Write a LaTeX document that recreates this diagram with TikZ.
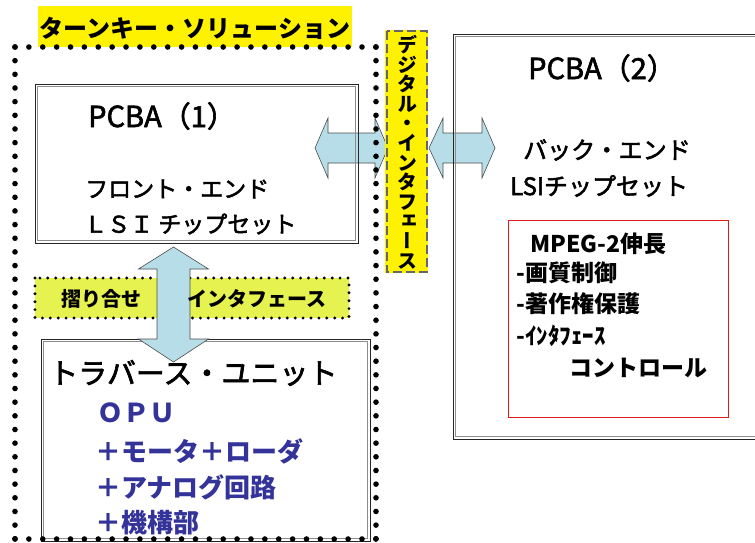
\documentclass[tikz,border=0pt]{standalone}
\usepackage{fontspec}
\setmainfont{Noto Sans CJK JP}
\newfontfamily\jpm[FakeBold=2.2]{Noto Sans CJK JP}
\newfontfamily\jpv[RawFeature=+vert]{Noto Sans CJK JP}
\definecolor{arrowblue}{RGB}{183,222,232}
\definecolor{ifgreen}{RGB}{230,242,80}
\definecolor{optblue}{RGB}{51,51,153}
\definecolor{boxred}{RGB}{225,25,25}
\tikzset{
  txt/.style={inner sep=0pt, anchor=west},
  dboxo/.style={draw=black!85, line width=1pt},
  dboxi/.style={draw=black!45, line width=0.9pt},
  blockarrow/.style={draw=black!70, fill=arrowblue, line width=0.6pt, line join=miter},
  bigdots/.style={line width=5.6pt, line cap=round},
  smalldots/.style={line width=3.2pt, line cap=round, dash pattern=on 0pt off 7.9pt},
  fs/.style={font=\jpm\fontsize{#1}{#1}\selectfont},
  fsb/.style={font=\bfseries\fontsize{#1}{#1}\selectfont},
}
\begin{document}
\begin{tikzpicture}[x=1pt,y=-1pt]
\clip (0,0) rectangle (755,542);
% anchor coordinates for block arrows
\coordinate (hl) at (351.5,148);
\coordinate (hr) at (462,148);
\coordinate (vv) at (173.5,304.5);
% horizontal block arrows (behind the boxes)
\draw[blockarrow, shift={(hl)}] (-36.5,0) -- (-23.5,-30) -- (-23.5,-15) -- (23.5,-15) -- (23.5,-30) -- (36.5,0)
  -- (23.5,30) -- (23.5,15) -- (-23.5,15) -- (-23.5,30) -- cycle;
\draw[blockarrow, shift={(hr)}] (-33,0) -- (-19,-30) -- (-19,-15) -- (20,-15) -- (20,-30) -- (33,0)
  -- (20,30) -- (20,15) -- (-19,15) -- (-19,30) -- cycle;
% boxes (double outlines)
\draw[dboxo] (35,84) rectangle (358,243);
\draw[dboxi] (37.6,86.6) rectangle (355.4,240.4);
\draw[dboxo] (453,34) rectangle (770,439);
\draw[dboxi] (455.6,36.6) rectangle (767.4,436.4);
\draw[draw=boxred, line width=0.9pt] (508,220) rectangle (728,417);
\draw[dboxo] (41,339) rectangle (370,541);
\draw[dboxi] (43.6,341.6) rectangle (367.4,538.4);
% interface box
\fill[ifgreen] (35,278) rectangle (349,318);
\draw[smalldots] (35,278) rectangle (349,318);
% vertical block arrow
\draw[blockarrow, shift={(vv)}] (0,-57.5) -- (35,-35.5) -- (16.5,-35.5) -- (16.5,34.5) -- (35,34.5) -- (0,57.5)
  -- (-35,34.5) -- (-16.5,34.5) -- (-16.5,-35.5) -- (-35,-35.5) -- cycle;
% texts PCBA(1)
\node[txt, fs=29] (p1) at (88,116) {PCBA（1）};
\node[txt, fs=23] (fe) at (85,189) {フロント・エンド};
\node[txt, fs=23] (lsi1) at (84,224) {ＬＳＩ チップセット};
% interface texts
\node[fsb=20, inner sep=0pt] (sur) at (101,299) {摺り合せ};
\node[fsb=20, inner sep=0pt] (itf) at (257,299) {インタフェース};
% traverse unit
\node[txt, fs=29] (tu) at (49,373) {トラバース・ユニット};
\node[txt, fsb=26, text=optblue] (opu) at (97,413) {ＯＰＵ};
\node[txt, fsb=26, text=optblue] (mot) at (95,451) {＋モータ＋ローダ};
\node[txt, fsb=26, text=optblue] (ana) at (95,487) {＋アナログ回路};
\node[txt, fsb=26, text=optblue] (kik) at (95,523) {＋機構部};
% PCBA(2)
\node[txt, fs=29] (p2) at (528,68) {PCBA（2）};
\node[txt, fs=24] (be) at (523,150) {バック・エンド};
\node[txt, fs=24] (lsi2) at (510,186) {LSIチップセット};
\node[txt, fsb=23] (mp) at (530,244) {MPEG-2伸長};
\node[txt, fsb=23] (ga) at (516,273) {-画質制御};
\node[txt, fsb=23] (ch) at (516,304) {-著作権保護};
\node[txt, fsb=23] (ic) at (516,336) {-ｲﾝﾀﾌｪｰｽ};
\node[txt, fsb=23] (co) at (569,368) {コントロール};
% title
\fill[yellow] (38,6) rectangle (352,47);
\node[fsb=24, inner sep=0pt] (title) at (195,28) {ターンキー・ソリューション};
% big dotted border
\coordinate (c1) at (15,47);
\coordinate (c2) at (376,47);
\coordinate (c3) at (376,539);
\coordinate (c4) at (15,539);
\draw[bigdots, dash pattern=on 0pt off 13.88pt] (c1) -- (c2);
\draw[bigdots, dash pattern=on 0pt off 13.66pt] (c2) -- (c3);
\draw[bigdots, dash pattern=on 0pt off 13.88pt] (c4) -- (c3);
\draw[bigdots, dash pattern=on 0pt off 13.66pt] (c1) -- (c4);
% digital interface banner
\fill[yellow] (385,30) rectangle (428,273);
\draw[draw=black!60, line width=1.3pt, dash pattern=on 9pt off 4pt] (387,31) rectangle (427,272);
\node[font=\jpv\bfseries\fontsize{20}{19.6}\selectfont, align=center, inner sep=0pt] (dig) at (407,152)
  {デ\\ジ\\タ\\ル\\・\\イ\\ン\\タ\\フ\\ェ\\ー\\ス};
\end{tikzpicture}
\end{document}
